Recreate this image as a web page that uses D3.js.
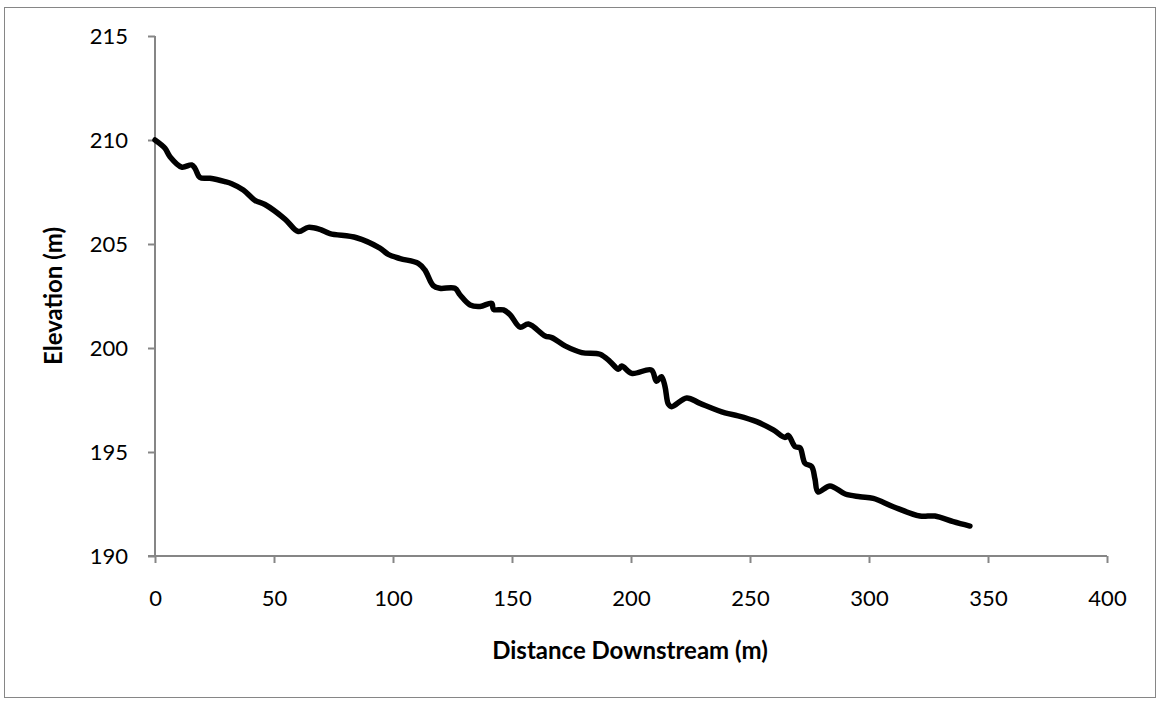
<!DOCTYPE html>
<html>
<head>
<meta charset="utf-8">
<script src="https://cdn.jsdelivr.net/npm/d3@7"></script>
<style>
  html, body { margin: 0; padding: 0; background: #fff; }
  svg { display: block; }
  text { font-family: Lato, "Open Sans", sans-serif; fill: #000; }
</style>
</head>
<body>
<svg id="chart" width="1159" height="703"></svg>
<script>
// Data
const distance = [0, 4.2, 6.3, 11.2, 15.4, 16.8, 18.9, 23.1, 29.4, 32.2, 37.1, 42, 46.2, 54.6, 60.2, 64.4, 69.3, 73.5, 84.7, 94.5, 98, 103, 110.6, 113.4, 116.9, 119.7, 126, 128.2, 132.4, 136.6, 141.5, 142.2, 146.4, 149.2, 153.4, 156.9, 163.9, 166.7, 172.3, 179.3, 187, 191.2, 194.7, 196.1, 200.3, 208.6, 210.7, 212.8, 214.3, 215.7, 217.1, 223.4, 229, 239.5, 245, 252.8, 259.8, 264.7, 266.1, 268.9, 271, 273.1, 275.9, 277.3, 278.6, 283.6, 290, 296.2, 301.8, 310.2, 321.4, 327.7, 335.4, 342.4];
const elevation = [210.0, 209.6, 209.2, 208.7, 208.8, 208.64, 208.2, 208.16, 208.0, 207.9, 207.6, 207.1, 206.9, 206.2, 205.6, 205.8, 205.7, 205.5, 205.3, 204.8, 204.5, 204.3, 204.07, 203.75, 203.0, 202.87, 202.87, 202.55, 202.07, 202.0, 202.15, 201.86, 201.83, 201.6, 201.0, 201.15, 200.58, 200.5, 200.1, 199.78, 199.7, 199.35, 198.98, 199.13, 198.78, 198.94, 198.4, 198.62, 198.14, 197.3, 197.18, 197.6, 197.34, 196.88, 196.74, 196.46, 196.06, 195.7, 195.8, 195.26, 195.2, 194.46, 194.3, 193.7, 193.08, 193.37, 192.98, 192.85, 192.77, 192.37, 191.92, 191.92, 191.65, 191.44];
const xTicks = [0, 50, 100, 150, 200, 250, 300, 350, 400];
const yTicks = [190, 195, 200, 205, 210, 215];
const xTitle = "Distance Downstream (m)";
const yTitle = "Elevation (m)";

const svg = d3.select("#chart");
const axisColor = "#868686";

// Outer border
svg.append("rect")
  .attr("x", 4.5).attr("y", 7.5)
  .attr("width", 1151).attr("height", 690)
  .attr("fill", "#fff").attr("stroke", axisColor).attr("stroke-width", 1);

const x = d3.scaleLinear().domain([0, 400]).range([155, 1107]);
const y = d3.scaleLinear().domain([190, 215]).range([556, 36]);

// X axis
const xAxis = svg.append("g")
  .attr("transform", `translate(0,${y(190)})`)
  .call(d3.axisBottom(x).tickValues(xTicks).tickSize(7).tickSizeOuter(0).tickFormat(d3.format("d")));
xAxis.select(".domain").attr("stroke", axisColor).attr("stroke-width", 2).attr("d", `M${x(0) - 7},0H${x(400)}`);
xAxis.selectAll(".tick line").attr("stroke", axisColor).attr("stroke-width", 2);
xAxis.selectAll(".tick text")
  .attr("y", 50).attr("dy", null)
  .style("font-size", "22px").style("font-family", "Lato, sans-serif").attr("fill", "#000");

// Y axis
const yAxis = svg.append("g")
  .attr("transform", `translate(${x(0)},0)`)
  .call(d3.axisLeft(y).tickValues(yTicks).tickSize(7).tickSizeOuter(0).tickFormat(d3.format("d")));
yAxis.select(".domain").attr("stroke", axisColor).attr("stroke-width", 2).attr("d", `M0,${y(215)}V${y(190)}`);
yAxis.selectAll(".tick line").attr("stroke", axisColor).attr("stroke-width", 2);
yAxis.selectAll(".tick text")
  .attr("x", -27).attr("dy", "0.36em")
  .style("font-size", "22px").style("font-family", "Lato, sans-serif").attr("fill", "#000");

// Line
const pts = distance.map((d, i) => [d, elevation[i]]);
const line = d3.line()
  .x(d => x(d[0]))
  .y(d => y(d[1]))
  .curve(d3.curveCatmullRom.alpha(0.5));
svg.append("path")
  .datum(pts)
  .attr("d", line)
  .attr("fill", "none")
  .attr("stroke", "#000")
  .attr("stroke-width", 5.5)
  .attr("stroke-linecap", "round")
  .attr("stroke-linejoin", "round");

// Axis titles
svg.append("text")
  .attr("x", 630).attr("y", 659)
  .attr("text-anchor", "middle")
  .style("font-size", "24px").style("font-weight", "bold")
  .text(xTitle);

svg.append("text")
  .attr("transform", "translate(62,296) rotate(-90)")
  .attr("text-anchor", "middle")
  .style("font-size", "24px").style("font-weight", "bold")
  .text(yTitle);
</script>
</body>
</html>
